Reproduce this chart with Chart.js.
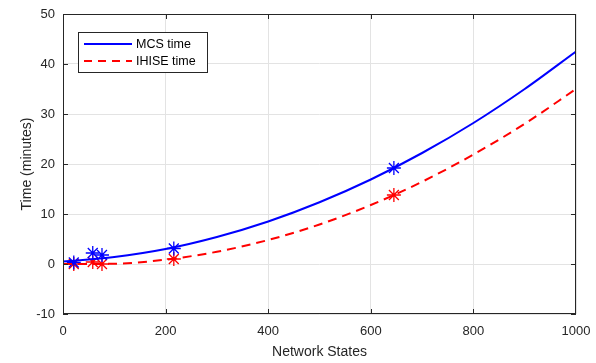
<!DOCTYPE html>
<html>
<head>
<meta charset="utf-8">
<script src="https://cdn.jsdelivr.net/npm/chart.js@4/dist/chart.umd.min.js"></script>
<style>
  html, body { margin: 0; padding: 0; background: #fff; }
  #chart { display: block; }
</style>
</head>
<body>
<canvas id="chart" width="596" height="363"></canvas>
<script>
// curve readings (fitted lines in the figure)
const curveX = [0, 100, 200, 300, 400, 500, 600, 700, 800, 900, 1000];
const mcsCurve = [0.5, 1.4, 3.0, 5.4, 8.5, 12.35, 16.9, 22.2, 28.2, 35.0, 42.5];
const ihiseCurve = [0, 0.05, 0.87, 2.45, 4.8, 7.9, 11.8, 16.45, 21.9, 28.05, 35.0];

// measured points (stars)
const pointX = [21, 58, 76, 216, 645];
const mcsPoints = [0.3, 2.2, 1.8, 3.1, 19.2];
const ihisePoints = [0.0, 0.4, 0.0, 1.0, 13.8];

const xTicks = [0, 200, 400, 600, 800, 1000];
const yTicks = [-10, 0, 10, 20, 30, 40, 50];

const BLUE = "#0000ff";
const RED = "#ff0000";
const AXIS = "#262626";
const FONT = "'Liberation Sans', Arial, Helvetica, sans-serif";

const toXY = (xs, ys) => xs.map((x, i) => ({ x: x, y: ys[i] }));

// draws the box, inward ticks and the legend like MATLAB does
const boxPlugin = {
  id: "box",
  afterDatasetsDraw(chart) {
    const { ctx, chartArea: a, scales } = chart;
    ctx.save();
    ctx.strokeStyle = AXIS;
    ctx.lineWidth = 1;
    ctx.strokeRect(a.left + 0.5, a.top + 0.5, a.right - a.left - 1, a.bottom - a.top - 1);
    ctx.beginPath();
    xTicks.forEach(v => {
      const px = Math.round(scales.x.getPixelForValue(v)) + 0.5;
      if (v === 0 || v === 1000) return;
      ctx.moveTo(px, a.bottom); ctx.lineTo(px, a.bottom - 5);
      ctx.moveTo(px, a.top); ctx.lineTo(px, a.top + 5);
    });
    yTicks.forEach(v => {
      const py = Math.round(scales.y.getPixelForValue(v)) + 0.5;
      ctx.moveTo(a.left, py); ctx.lineTo(a.left + 5, py);
      ctx.moveTo(a.right, py); ctx.lineTo(a.right - 5, py);
    });
    ctx.stroke();

    // legend
    const lx = 78, ly = 32, lw = 129, lh = 40;
    ctx.fillStyle = "#fff";
    ctx.fillRect(lx, ly, lw, lh);
    ctx.strokeStyle = AXIS;
    ctx.strokeRect(lx + 0.5, ly + 0.5, lw, lh);
    const items = [
      { label: "MCS time", color: BLUE, dash: [], y: 44 },
      { label: "IHISE time", color: RED, dash: [8, 6], y: 61 }
    ];
    ctx.font = "12.5px " + FONT;
    ctx.textBaseline = "middle";
    items.forEach(it => {
      ctx.strokeStyle = it.color;
      ctx.lineWidth = 2;
      ctx.setLineDash(it.dash);
      ctx.beginPath();
      ctx.moveTo(84, it.y); ctx.lineTo(132, it.y);
      ctx.stroke();
      ctx.setLineDash([]);
      ctx.fillStyle = "#000";
      ctx.fillText(it.label, 136, it.y + 1);
    });
    ctx.restore();
  }
};

new Chart(document.getElementById("chart"), {
  type: "scatter",
  data: {
    datasets: [
      {
        label: "MCS time",
        data: toXY(curveX, mcsCurve),
        showLine: true,
        borderColor: BLUE,
        borderWidth: 2,
        pointRadius: 0,
        cubicInterpolationMode: "monotone"
      },
      {
        label: "IHISE time",
        data: toXY(curveX, ihiseCurve),
        showLine: true,
        borderColor: RED,
        borderWidth: 2,
        borderDash: [9, 6],
        pointRadius: 0,
        cubicInterpolationMode: "monotone"
      },
      {
        label: "MCS points",
        data: toXY(pointX, mcsPoints),
        pointStyle: "star",
        pointRadius: 7,
        borderColor: BLUE,
        borderWidth: 1.3,
        backgroundColor: BLUE
      },
      {
        label: "IHISE points",
        data: toXY(pointX, ihisePoints),
        pointStyle: "star",
        pointRadius: 7,
        borderColor: RED,
        borderWidth: 1.3,
        backgroundColor: RED
      }
    ]
  },
  options: {
    responsive: false,
    animation: false,
    layout: { padding: { left: 0, right: 20, top: 14, bottom: 0 } },
    plugins: { legend: { display: false }, tooltip: { enabled: false } },
    scales: {
      x: {
        type: "linear",
        min: 0,
        max: 1000,
        afterBuildTicks: s => { s.ticks = xTicks.map(v => ({ value: v })); },
        afterFit: s => { s.height = 49; s.paddingRight = 0; s.paddingLeft = 0; },
        grid: { color: "#e3e3e3", drawTicks: false },
        border: { display: false },
        ticks: { color: AXIS, padding: 10, font: { family: FONT, size: 13 }, maxRotation: 0, callback: v => String(v) },
        title: { display: true, text: "Network States", color: AXIS, font: { family: FONT, size: 14 }, padding: { top: 0, bottom: 2 } }
      },
      y: {
        type: "linear",
        min: -10,
        max: 50,
        afterBuildTicks: s => { s.ticks = yTicks.map(v => ({ value: v })); },
        afterFit: s => { s.width = 63; s.paddingTop = 0; s.paddingBottom = 0; },
        grid: { color: "#e3e3e3", drawTicks: false },
        border: { display: false },
        ticks: { color: AXIS, padding: 8, font: { family: FONT, size: 13 }, callback: v => String(v) },
        title: { display: true, text: "Time (minutes)", color: AXIS, font: { family: FONT, size: 14 }, padding: { top: 19, bottom: 0 } }
      }
    }
  },
  plugins: [boxPlugin]
});
</script>
</body>
</html>
